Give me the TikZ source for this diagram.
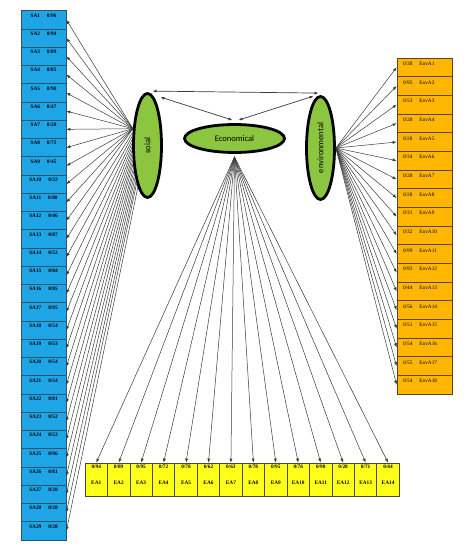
\documentclass[tikz,border=0pt]{standalone}
\usepackage{fontspec}
\setmainfont{Liberation Serif}
\newfontfamily\carlito{Carlito}
\usetikzlibrary{arrows.meta,shapes.geometric,calc}
\definecolor{sablue}{HTML}{1DA5E6}
\definecolor{sabord}{HTML}{2E5468}
\definecolor{envor}{HTML}{FFB600}
\definecolor{envbord}{HTML}{5A4526}
\definecolor{eayel}{HTML}{FFFF1A}
\definecolor{eabord}{HTML}{4A4A30}
\definecolor{ellgreen}{HTML}{8CC540}
\definecolor{conncol}{HTML}{3A3A3A}
\begin{document}
\begin{tikzpicture}[x=1pt,y=-1pt,
  sabox/.style={rectangle,draw=sabord,fill=sablue,line width=0.8pt,minimum width=45pt,minimum height=18.25pt,inner sep=0pt},
  envbox/.style={rectangle,draw=envbord,fill=envor,line width=0.8pt,minimum width=55pt,minimum height=18.67pt,inner sep=0pt},
  eabox/.style={rectangle,draw=eabord,fill=eayel,line width=0.8pt,minimum width=22.45pt,minimum height=33pt,inner sep=0pt},
  boxtxt/.style={anchor=center,inner sep=0pt,font=\bfseries\fontsize{5.3}{6}\selectfont},
  envtxt/.style={anchor=center,inner sep=0pt,font=\fontsize{5.3}{6}\selectfont},
  ell/.style={ellipse,draw=black,fill=ellgreen,line width=2.8pt,inner sep=0pt,font=\carlito\fontsize{8.5}{10}\selectfont},
  conn/.style={draw=conncol,line width=0.5pt,-{Latex[length=4pt,width=3pt]}},
  dbl/.style={draw=conncol,line width=0.7pt,{Latex[length=4pt,width=3pt]}-{Latex[length=4pt,width=3pt]}}
]
\fill[white] (0,0) rectangle (474,551);
\useasboundingbox (0,0) rectangle (474,551);

% ellipses
\node[ell,minimum width=28pt,minimum height=104pt] (soial) at (147.5,145.5) {\rotatebox{90}{soial}};
\node[ell,minimum width=100pt,minimum height=28pt] (econ) at (234.5,138.5) {Economical};
\node[ell,minimum width=28pt,minimum height=103pt] (env) at (320.5,148) {\rotatebox{90}{environmental}};

% SA boxes
\foreach \v [count=\i] in {96,94,89,85,90,47,28,75,45,32,80,46,87,52,84,85,95,54,53,54,54,81,52,53,96,81,28,28,28} {
  \node[sabox,label={[boxtxt,yshift=-5pt]north:SA\i\hspace{7pt}0/\v}] (sa\i) at (43.5,{10.7+(\i-0.5)*18.25}) {};
}
% EnvA boxes
\foreach \v [count=\i] in {38,95,53,28,28,34,28,28,31,32,99,93,44,56,51,54,55,54} {
  \node[envbox,label={[envtxt,yshift=-6pt]north:\makebox[43pt][l]{0/\v\hspace{7pt}EnvA\i}}] (enva\i) at (424.5,{58+(\i-0.5)*18.67}) {};
}
% EA boxes
\foreach \v [count=\i] in {94,89,95,72,78,62,63,78,95,76,90,28,71,44} {
  \node[eabox,label={[boxtxt,yshift=-4pt]north:0/\v},label={[boxtxt,yshift=-3.5pt]center:EA\i}] (ea\i) at ({85+(\i-0.5)*22.45},479.5) {};
}

% connectors soial -> SA
\foreach \i in {1,...,29} {
  \pgfmathsetmacro{\dy}{\i<=12 ? -15 : -15+(\i-12)*55/17}
  \pgfmathsetmacro{\dx}{14*sqrt(1-(\dy/52)^2)}
  \pgfmathtruncatemacro{\ang}{mod(atan2(-\dy,-\dx)+360,360)}
  \draw[conn] (soial.\ang) -- (sa\i.east);
}
% env -> EnvA
\foreach \i in {1,...,18} {
  \draw[conn] (env.east) -- (enva\i.west);
}
% econ -> EA
\foreach \i in {1,...,14} {
  \draw[conn] ([yshift=-3pt]econ.south) -- (ea\i.north);
}
% correlations
\draw[dbl] ([xshift=5pt,yshift=1pt]soial.north) -- ([xshift=-2pt,yshift=2pt]env.north);
\draw[dbl] ([xshift=13pt,yshift=-5pt]soial.north) -- ([xshift=-2pt,yshift=3pt]econ.north);
\draw[dbl] ([xshift=4pt,yshift=3pt]econ.north) -- ([xshift=-7pt,yshift=-1pt]env.north);
\end{tikzpicture}
\end{document}
